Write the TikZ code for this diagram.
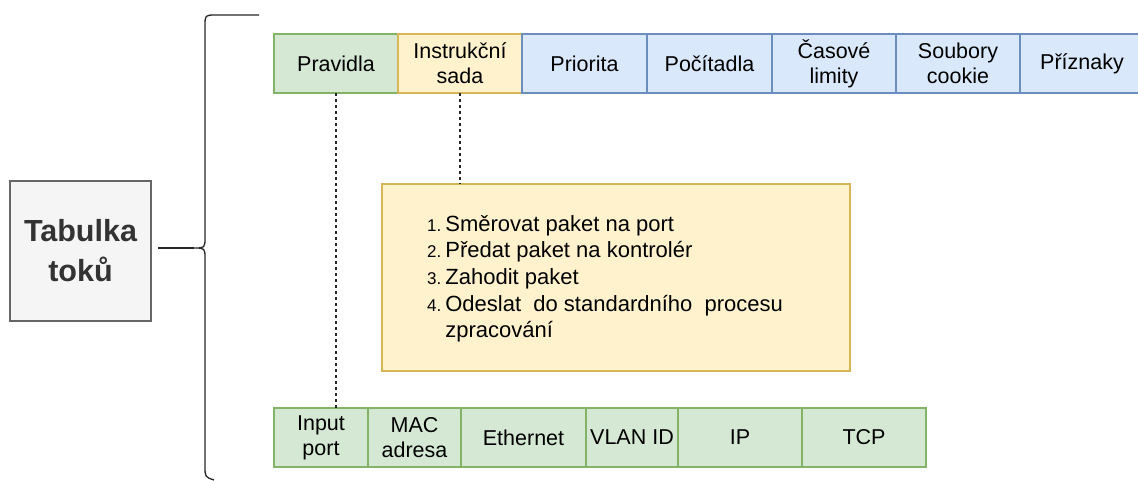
\documentclass[tikz,border=0pt]{standalone}
\usepackage{fontspec}
\setmainfont{Liberation Sans}
\usetikzlibrary{positioning}
\definecolor{zfill}{HTML}{D5E8D4}
\definecolor{zline}{HTML}{82B366}
\definecolor{yfill}{HTML}{FFF2CC}
\definecolor{yline}{HTML}{D6B656}
\definecolor{mfill}{HTML}{DAE8FC}
\definecolor{mline}{HTML}{6C8EBF}
\definecolor{sfill}{HTML}{F5F5F5}
\definecolor{sline}{HTML}{666666}
\definecolor{stext}{HTML}{333333}

\begin{document}
\begin{tikzpicture}[x=1pt, y=-1pt,
        cell/.style={draw, line width=1.3pt, outer sep=0pt, inner sep=0pt,
            minimum height=59pt, align=center,
            font=\fontsize{21.5}{25}\selectfont},
        zelena/.style={cell, fill=zfill, draw=zline},
        zluta/.style={cell, fill=yfill, draw=yline},
        modra/.style={cell, fill=mfill, draw=mline},
        spoj/.style={line width=1.2pt, black!85, dash pattern=on 3pt off 3pt}]
    \useasboundingbox (0,0) rectangle (1138,480);

    \node[draw=sline, fill=sfill, text=stext, line width=1.3pt, minimum width=141pt,
        minimum height=140pt, align=center, font=\bfseries\fontsize{30.5}{40}\selectfont]
        (tabulka) at (80.5,251) {Tabulka\\toků};

    \node[zelena, minimum width=124pt, anchor=north west] (pravidla) at (274,34) {Pravidla};
    \node[zluta, minimum width=124pt, right=0pt of pravidla] (instrukce) {Instrukční\\sada};
    \node[modra, minimum width=125pt, right=0pt of instrukce] (priorita) {Priorita};
    \node[modra, minimum width=125pt, right=0pt of priorita] (pocitadla) {Počítadla};
    \node[modra, minimum width=124pt, right=0pt of pocitadla] (limity) {Časové\\limity};
    \node[modra, minimum width=124pt, right=0pt of limity] (cookie) {Soubory\\cookie};
    \node[modra, minimum width=124pt, right=0pt of cookie] (priznaky) {Příznaky};

    \node[draw=yline, fill=yfill, line width=1.3pt, minimum width=468pt, minimum height=187pt]
        (akce) at (616,277.5) {};
    \node[anchor=base west, inner sep=0pt, font=\fontsize{22}{26.7}\selectfont]
        (seznam) at (427,231) {%
        \begin{tabular}[t]{@{}r@{\hspace{4pt}}l@{}}
            {\fontsize{17}{20}\selectfont 1.} & Směrovat paket na port\\
            {\fontsize{17}{20}\selectfont 2.} & Předat paket na kontrolér\\
            {\fontsize{17}{20}\selectfont 3.} & Zahodit paket\\
            {\fontsize{17}{20}\selectfont 4.} & Odeslat\ \ do standardního\ \ procesu\\
             & zpracování
        \end{tabular}};

    \node[zelena, minimum width=94pt, anchor=north west] (vstup) at (274,408) {Input\\port};
    \node[zelena, minimum width=93pt, right=0pt of vstup] (mac) {MAC\\adresa};
    \node[zelena, minimum width=125pt, right=0pt of mac] (ethernet) {Ethernet};
    \node[zelena, minimum width=92pt, right=0pt of ethernet] (vlan) {VLAN ID};
    \node[zelena, minimum width=124pt, right=0pt of vlan] (ip) {IP};
    \node[zelena, minimum width=124pt, right=0pt of ip] (tcp) {TCP};

    \coordinate (hrot) at (194,248);
    \draw[line width=1.3pt, black!85] (259,15) -- (216,15) .. controls (205,15) .. (205,26)
        -- (205,237) .. controls (205,248) .. (hrot) .. controls (205,248) .. (205,259)
        -- (205,466) .. controls (205,477) .. (214,480);
    \draw[line width=1.3pt, black!85, shorten <=6pt] (tabulka.east |- hrot) -- (hrot);

    \draw[spoj] (pravidla.south) -- (pravidla.south |- vstup.north);
    \draw[spoj] (instrukce.south) -- (instrukce.south |- akce.north);
\end{tikzpicture}
\end{document}
